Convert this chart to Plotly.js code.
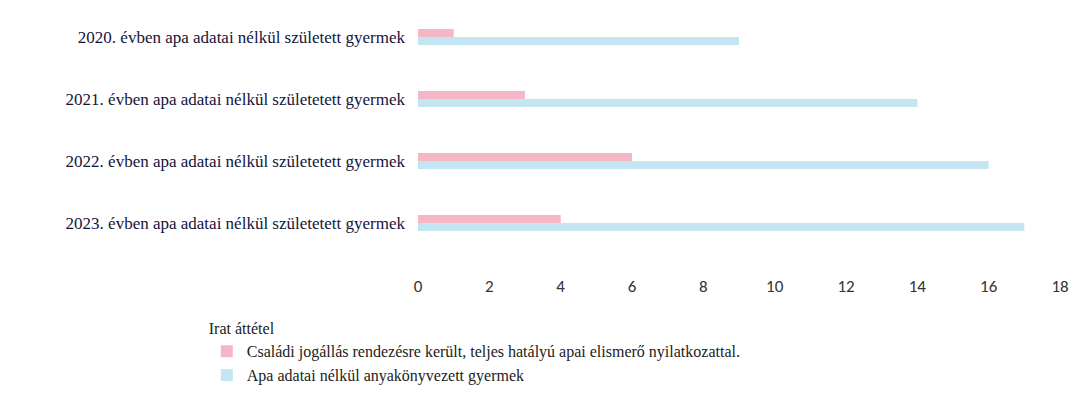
<!DOCTYPE html>
<html><head><meta charset="utf-8">
<script src="https://cdn.plot.ly/plotly-3.0.1.min.js"></script>
<style>html,body{margin:0;padding:0;background:#fff}#chart{width:1074px;height:416px}</style>
</head><body><div id="chart"></div>
<script>
const categories = [
  "2020. évben apa adatai nélkül született gyermek",
  "2021. évben apa adatai nélkül születetett gyermek",
  "2022. évben apa adatai nélkül születetett gyermek",
  "2023. évben apa adatai nélkül születetett gyermek"
];
const seriesNames = [
  "Családi jogállás rendezésre került, teljes hatályú apai elismerő nyilatkozattal.",
  "Apa adatai nélkül anyakönyvezett gyermek"
];
const rendezett = [1, 3, 6, 4];
const apaNelkul = [9, 14, 16, 17];
const tickValues = [0, 2, 4, 6, 8, 10, 12, 14, 16, 18];

const traces = [
  {type:'bar', orientation:'h', name:seriesNames[0], y:categories, x:rendezett,
   marker:{color:'#f5b7c6'}},
  {type:'bar', orientation:'h', name:seriesNames[1], y:categories, x:apaNelkul,
   marker:{color:'#c4e6f2'}}
];
const layout = {
  width:1074, height:416, paper_bgcolor:'#fff', plot_bgcolor:'#fff',
  margin:{l:418, r:14, t:6, b:162},
  barmode:'group', bargap:0.74, bargroupgap:0,
  showlegend:true,
  xaxis:{range:[0,18], tickvals:tickValues, ticktext:tickValues.map(String),
    showgrid:false, zeroline:false, showline:false, ticks:'',
    tickfont:{family:'Carlito, "Open Sans", sans-serif', size:17, color:'#333'}, ticklabelstandoff:20},
  yaxis:{autorange:'reversed', showgrid:false, zeroline:false, showline:false, ticks:'',
    tickfont:{family:'"Liberation Serif", serif', size:17, color:'#14143a'}, ticklabelstandoff:12},
  legend:{orientation:'v', x:-0.329, xanchor:'left', y:-0.24, yanchor:'top',
    font:{family:'"Liberation Serif", serif', size:16, color:'#222'},
    title:{text:'Irat áttétel', font:{family:'"Liberation Serif", serif', size:16, color:'#222'}},
    itemwidth:30, tracegroupgap:6, bgcolor:'rgba(0,0,0,0)'}
};
Plotly.newPlot('chart', traces, layout, {displayModeBar:false, staticPlot:true});
</script></body></html>
